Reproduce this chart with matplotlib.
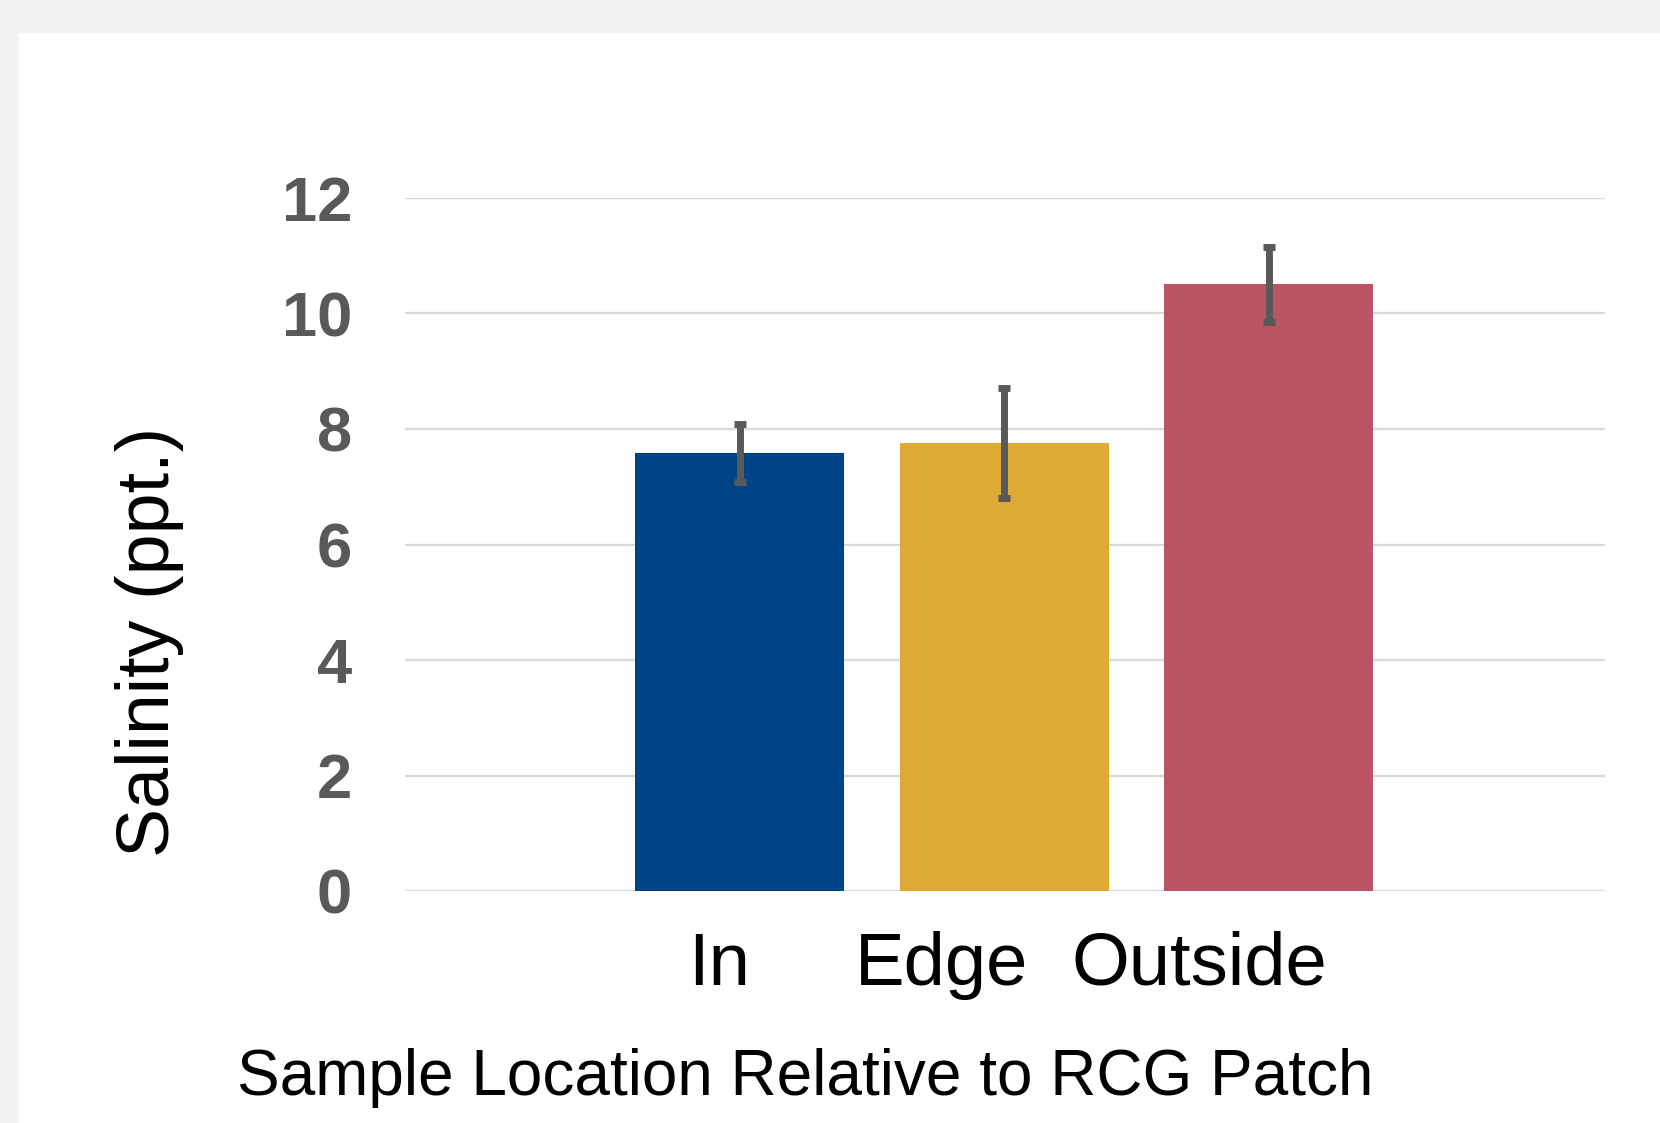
import matplotlib
matplotlib.use("Agg")
import matplotlib.pyplot as plt
import matplotlib.transforms as mtransforms
from matplotlib.patches import Rectangle
import numpy as np

# ---- data ----
categories = ["In", "Edge", "Outside"]
salinity = [7.59, 7.76, 10.51]
salinity_err = [0.50, 0.95, 0.65]
bar_colors = ["#004488", "#DDAA33", "#BB5566"]
label_shift = [-0.078, -0.238, -0.264]   # category label offsets (as in original)
yticks = [0, 2, 4, 6, 8, 10, 12]

plt.rcParams['font.family'] = ['Liberation Sans', 'DejaVu Sans']

W, H = 1660, 1123
fig = plt.figure(figsize=(W / 100, H / 100), dpi=100)
fig.patch.set_facecolor("#F2F2F2")
fig.patches.append(Rectangle((19 / W, 0), 1, (H - 33) / H, transform=fig.transFigure,
                             facecolor="white", edgecolor="none", zorder=-10))

ax = fig.add_axes([405 / W, 232 / H, 1200 / W, 693 / H])
ax.set_zorder(1)
ax.set_facecolor("none")

x = np.arange(len(categories))
ax.bar(x, salinity, width=0.79, color=bar_colors, zorder=2)
ax.errorbar(x, salinity, yerr=salinity_err, fmt="none", ecolor="#595959",
            elinewidth=5, capsize=4.3, capthick=5, zorder=3)

ax.set_xlim(-1.265, 3.27)
ax.set_ylim(0, 12)
ax.set_yticks(yticks)
ax.set_yticklabels([str(v) for v in yticks], fontsize=45.5, fontweight="bold", color="#595959")
ax.tick_params(axis="y", length=0, pad=38)
ax.set_xticks([])
ax.grid(axis="y", color="#D9D9D9", linewidth=1.7, zorder=1)
ax.set_axisbelow(True)
for s in ax.spines.values():
    s.set_visible(False)

trans = mtransforms.blended_transform_factory(ax.transData, ax.transAxes)
for xi, lab, dx in zip(x, categories, label_shift):
    ax.text(xi + dx, -0.1356, lab, transform=trans, ha="center", va="baseline",
            fontsize=53.5, color="black")

fig.text(150 / W, 1 - 642 / H, "Salinity (ppt.)", rotation=90, ha="center", va="center",
         fontsize=53, color="black")
fig.text(805 / W, (H - 1095) / H, "Sample Location Relative to RCG Patch", ha="center",
         va="baseline", fontsize=46, color="black")

fig.savefig("out.png", dpi=100, facecolor=fig.get_facecolor())
